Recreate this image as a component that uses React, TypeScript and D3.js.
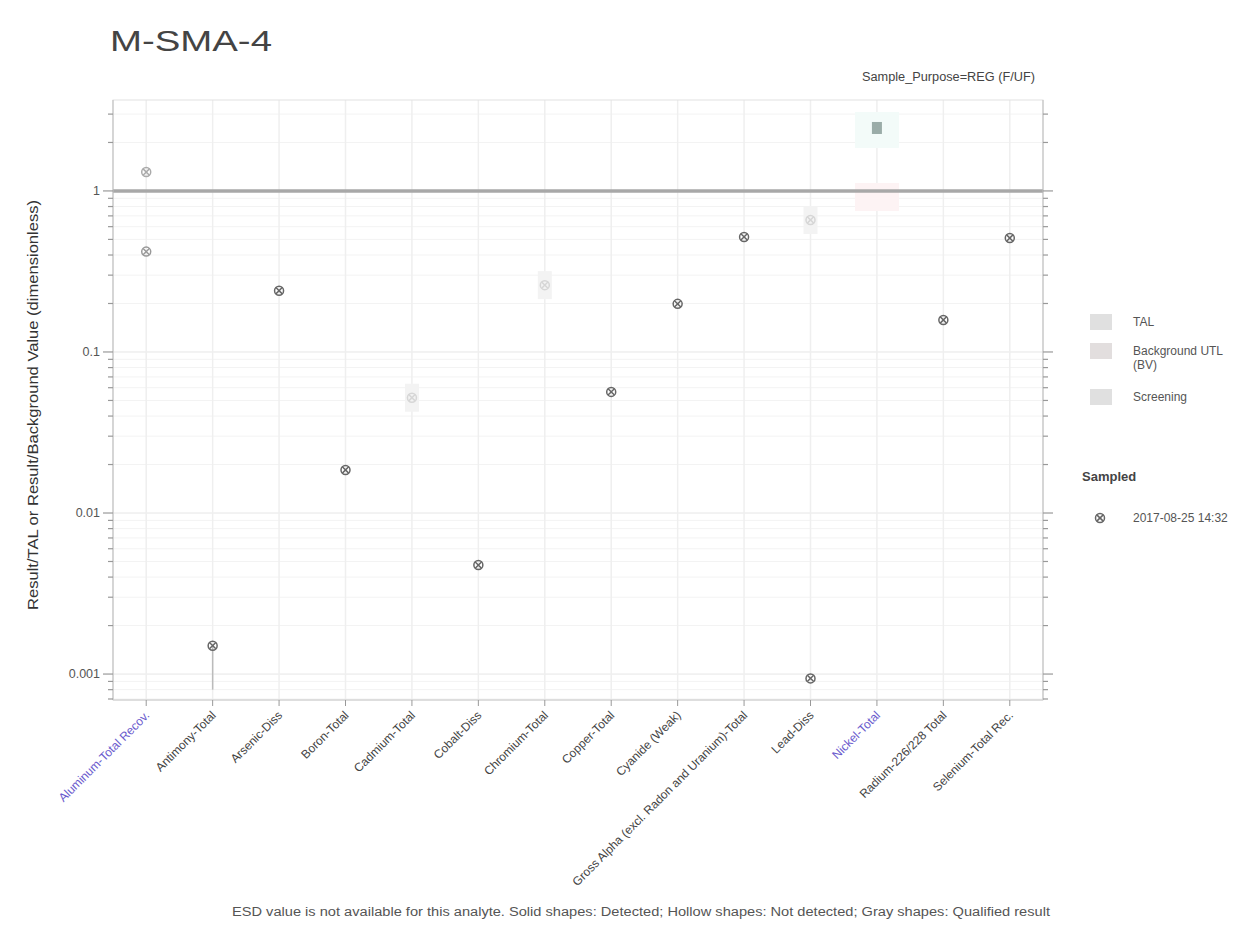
import React from "react";
import * as d3 from "d3";

const categories = [
  "Aluminum-Total Recov.",
  "Antimony-Total",
  "Arsenic-Diss",
  "Boron-Total",
  "Cadmium-Total",
  "Cobalt-Diss",
  "Chromium-Total",
  "Copper-Total",
  "Cyanide (Weak)",
  "Gross Alpha (excl. Radon and Uranium)-Total",
  "Lead-Diss",
  "Nickel-Total",
  "Radium-226/228 Total",
  "Selenium-Total Rec.",
];
const highlighted = [true, false, false, false, false, false, false, false, false, false, false, true, false, false];
// Detected result ratios (dark markers)
const detectedRatio: (number | null)[] = [0.42, 0.0015, 0.24, 0.0185, null, 0.00475, null, 0.0565, 0.199, 0.518, 0.00094, null, 0.158, 0.51];
// Secondary result ratios (lighter markers)
const secondaryRatio: (number | null)[] = [1.31, null, null, null, null, null, null, null, null, null, null, null, null, null];
// Non-detected result ratios (faint markers)
const nonDetectRatio: (number | null)[] = [null, null, null, null, 0.052, null, 0.26, null, null, null, 0.66, null, null, null];
// Exceedance ratios (teal markers)
const exceedRatio: (number | null)[] = [null, null, null, null, null, null, null, null, null, null, null, 2.46, null, null];
// Drop line lower ends
const dropTo: (number | null)[] = [null, 0.0008, null, null, null, null, null, null, null, null, null, null, null, null];
const yDomain = [0.00069, 3.67];
const yLabelTicks = [1, 0.1, 0.01, 0.001];
const yTickText = ["1", "0.1", "0.01", "0.001"];
const legendItems = ["TAL", "Background UTL", "Screening"];
const legendDate = "2017-08-25 14:32";

const FONT = "'Liberation Sans', Arial, sans-serif";

export default function App() {
  const W = 1246, H = 936;
  const left = 113, right = 1043, top = 100, bottom = 700;
  const x = d3.scaleBand<string>().domain(categories).range([left, right]);
  const y = d3.scaleLog().domain(yDomain).range([bottom, top]);
  const cx = (c: string) => (x(c) as number) + x.bandwidth() / 2;
  const allTicks = y.ticks();
  const isMajor = (t: number) => Math.abs(Math.log10(t) - Math.round(Math.log10(t))) < 1e-9;

  const marker = (px: number, py: number, color: string, key: string, r = 4.5) => (
    <g key={key}>
      <circle cx={px} cy={py} r={r} fill="none" stroke={color} strokeWidth={1.5} />
      <line x1={px - r * 0.7} y1={py - r * 0.7} x2={px + r * 0.7} y2={py + r * 0.7} stroke={color} strokeWidth={1.5} />
      <line x1={px - r * 0.7} y1={py + r * 0.7} x2={px + r * 0.7} y2={py - r * 0.7} stroke={color} strokeWidth={1.5} />
    </g>
  );

  return (
    <svg width={W} height={H} style={{ position: "absolute", left: 0, top: 0, background: "#fff" }} fontFamily={FONT}>
      {/* Title */}
      <text x={110} y={51} fontSize={29} fill="#444" textLength={162} lengthAdjust="spacingAndGlyphs">M-SMA-4</text>
      <text x={862} y={81} fontSize={12} fill="#444" textLength={173} lengthAdjust="spacingAndGlyphs">Sample_Purpose=REG (F/UF)</text>

      {/* Horizontal grid */}
      {allTicks.map((t, i) => (
        <line key={"hg" + i} x1={left} x2={right} y1={y(t)} y2={y(t)} stroke={isMajor(t) ? "#e6e6e6" : "#f3f3f3"} strokeWidth={1} />
      ))}
      {/* Vertical grid */}
      {categories.map((c) => (
        <line key={"vg" + c} x1={cx(c)} x2={cx(c)} y1={top} y2={bottom} stroke="#efefef" strokeWidth={1.5} />
      ))}
      {/* Plot border */}
      <rect x={left} y={top} width={right - left} height={bottom - top} fill="none" stroke="#e2e2e2" />

      {/* Shaded highlight regions */}
      {categories.map((c, i) =>
        exceedRatio[i] != null ? (
          <g key={"sh" + i}>
            <rect x={cx(c) - 22} y={y(exceedRatio[i] as number) - 16} width={44} height={36} fill="#f3fbf9" />
            <rect x={cx(c) - 22} y={y(1) - 8} width={44} height={28} fill="#fdf3f4" />
          </g>
        ) : null
      )}

      {/* Threshold line at 1 */}
      <line x1={left} x2={right} y1={y(1)} y2={y(1)} stroke="#a8a8a8" strokeWidth={3.5} />

      {/* Left axis */}
      <line x1={left} x2={left} y1={top} y2={bottom} stroke="#bbb" />
      {allTicks.map((t, i) => (
        <line key={"lt" + i} x1={left - (isMajor(t) ? 10 : 5)} x2={left} y1={y(t)} y2={y(t)} stroke="#999" strokeWidth={1.2} />
      ))}
      {yLabelTicks.map((t, i) => (
        <text key={"ll" + i} x={left - 13} y={y(t) + 4} fontSize={12.5} fill="#555" textAnchor="end">{yTickText[i]}</text>
      ))}
      {/* Right axis */}
      <line x1={right} x2={right} y1={top} y2={bottom} stroke="#bbb" />
      {allTicks.map((t, i) => (
        <line key={"rt" + i} x1={right} x2={right + (isMajor(t) ? 10 : 5)} y1={y(t)} y2={y(t)} stroke="#999" strokeWidth={1.2} />
      ))}

      {/* Y label */}
      <text transform={`translate(38,${(top + bottom) / 2 + 5}) rotate(-90)`} fontSize={14} fill="#333" textAnchor="middle" textLength={410} lengthAdjust="spacingAndGlyphs">
        Result/TAL or Result/Background Value (dimensionless)
      </text>

      {/* X axis ticks and labels */}
      <line x1={left} x2={right} y1={bottom} y2={bottom} stroke="#ccc" />
      {categories.map((c, i) => (
        <g key={"xl" + i}>
          <line x1={cx(c)} x2={cx(c)} y1={bottom} y2={bottom + 6} stroke="#999" />
          <text
            transform={`translate(${cx(c) + 4},${bottom + 16}) rotate(-45)`}
            fontSize={12}
            fill={highlighted[i] ? "#6a5acd" : "#444"}
            textAnchor="end"
          >
            {c}
          </text>
        </g>
      ))}

      {/* Drop lines */}
      {categories.map((c, i) =>
        dropTo[i] != null && detectedRatio[i] != null ? (
          <line key={"dl" + i} x1={cx(c)} x2={cx(c)} y1={y(detectedRatio[i] as number)} y2={y(dropTo[i] as number)} stroke="#bbb" strokeWidth={1.5} />
        ) : null
      )}

      {/* Non-detect faint markers */}
      {categories.map((c, i) =>
        nonDetectRatio[i] != null ? (
          <g key={"nd" + i}>
            <rect x={cx(c) - 7} y={y(nonDetectRatio[i] as number) - 14} width={14} height={28} fill="#f3f3f3" />
            {marker(cx(c), y(nonDetectRatio[i] as number), "#d6d6d6", "ndm" + i)}
          </g>
        ) : null
      )}
      {/* Secondary markers */}
      {categories.map((c, i) =>
        secondaryRatio[i] != null ? marker(cx(c), y(secondaryRatio[i] as number), "#aaa", "sm" + i) : null
      )}
      {/* Detected markers */}
      {categories.map((c, i) =>
        detectedRatio[i] != null ? marker(cx(c), y(detectedRatio[i] as number), i === 0 ? "#999" : "#666", "dm" + i) : null
      )}
      {/* Exceedance markers */}
      {categories.map((c, i) =>
        exceedRatio[i] != null ? (
          <rect key={"ex" + i} x={cx(c) - 5} y={y(exceedRatio[i] as number) - 6} width={10} height={12} fill="#9aaca8" />
        ) : null
      )}

      {/* Legend 1 */}
      {legendItems.map((t, i) => {
        const ly = [322, 351, 397][i];
        const col = ["#e0e0e0", "#e2dede", "#e0e0e0"][i];
        return (
          <g key={"lg" + i}>
            <rect x={1090} y={ly - 8} width={22} height={16} fill={col} />
            {i === 1 ? (
              <text x={1133} y={ly + 4} fontSize={12} fill="#555">
                <tspan x={1133}>Background UTL</tspan>
                <tspan x={1133} dy={14}>(BV)</tspan>
              </text>
            ) : (
              <text x={1133} y={ly + 4} fontSize={12} fill="#555">{t}</text>
            )}
          </g>
        );
      })}
      {/* Legend 2 */}
      <text x={1082} y={481} fontSize={13} fontWeight="bold" fill="#444">Sampled</text>
      {marker(1100, 518, "#666", "legm")}
      <text x={1133} y={522} fontSize={12} fill="#555">{legendDate}</text>

      {/* Caption */}
      <text x={232} y={916} fontSize={12} fill="#555" textLength={818} lengthAdjust="spacingAndGlyphs">
        ESD value is not available for this analyte.  Solid shapes: Detected; Hollow shapes: Not detected; Gray shapes: Qualified result
      </text>
    </svg>
  );
}
